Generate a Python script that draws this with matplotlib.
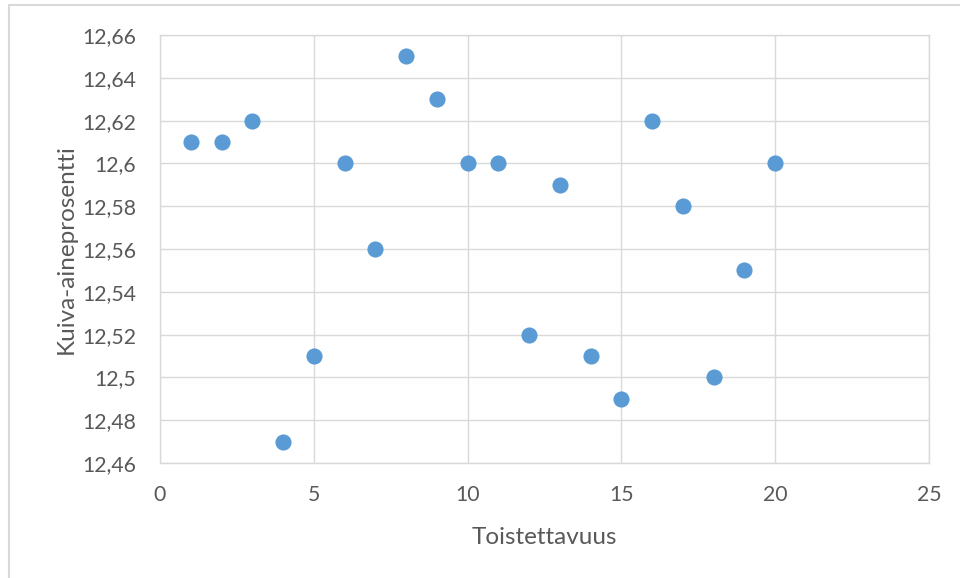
import matplotlib
matplotlib.use("Agg")
import matplotlib.pyplot as plt
from matplotlib.patches import Rectangle
from matplotlib.ticker import FuncFormatter, MultipleLocator

# Repeatability measurements: run number vs dry-matter percentage
runs = list(range(1, 21))
dry_matter = [12.61, 12.61, 12.62, 12.47, 12.51, 12.60, 12.56, 12.65, 12.63, 12.60,
              12.60, 12.52, 12.59, 12.51, 12.49, 12.62, 12.58, 12.50, 12.55, 12.60]

x_label = "Toistettavuus"
y_label = "Kuiva-aineprosentti"

plt.rcParams['font.family'] = ['Lato', 'DejaVu Sans']

W, H = 960, 578
fig = plt.figure(figsize=(W / 100, H / 100), dpi=100)
ax = fig.add_axes([160 / W, 1 - 463 / H, (929 - 160) / W, (463 - 35) / H])

# Outer chart frame
fig.patches.append(Rectangle((9 / W, -0.05), 1.2, 1 - 5 / H + 0.05, transform=fig.transFigure,
                             fill=False, edgecolor='#D9D9D9', linewidth=1.5, zorder=0))

ax.scatter(runs, dry_matter, s=135, color='#5B9BD5', zorder=3, linewidths=0)

ax.set_xlim(0, 25)
ax.set_ylim(12.46, 12.66)
ax.xaxis.set_major_locator(MultipleLocator(5))
ax.yaxis.set_major_locator(MultipleLocator(0.02))


def comma_fmt(v, pos):
    s = f"{v:.2f}".rstrip('0').rstrip('.')
    return s.replace('.', ',')


ax.yaxis.set_major_formatter(FuncFormatter(comma_fmt))
ax.xaxis.set_major_formatter(FuncFormatter(lambda v, p: f"{int(round(v))}"))

ax.grid(True, color='#D9D9D9', linewidth=1.0)
ax.set_axisbelow(True)
for sp in ax.spines.values():
    sp.set_color('#D9D9D9')
    sp.set_linewidth(1.0)

ax.tick_params(length=0, labelsize=15.3, labelcolor='#595959')
ax.tick_params(axis='y', pad=17)
ax.tick_params(axis='x', pad=16)
ax.set_xlabel(x_label, fontsize=17.5, color='#595959', labelpad=16)
ax.set_ylabel(y_label, fontsize=17.5, color='#595959', labelpad=4)

fig.savefig("out.png", dpi=100)
